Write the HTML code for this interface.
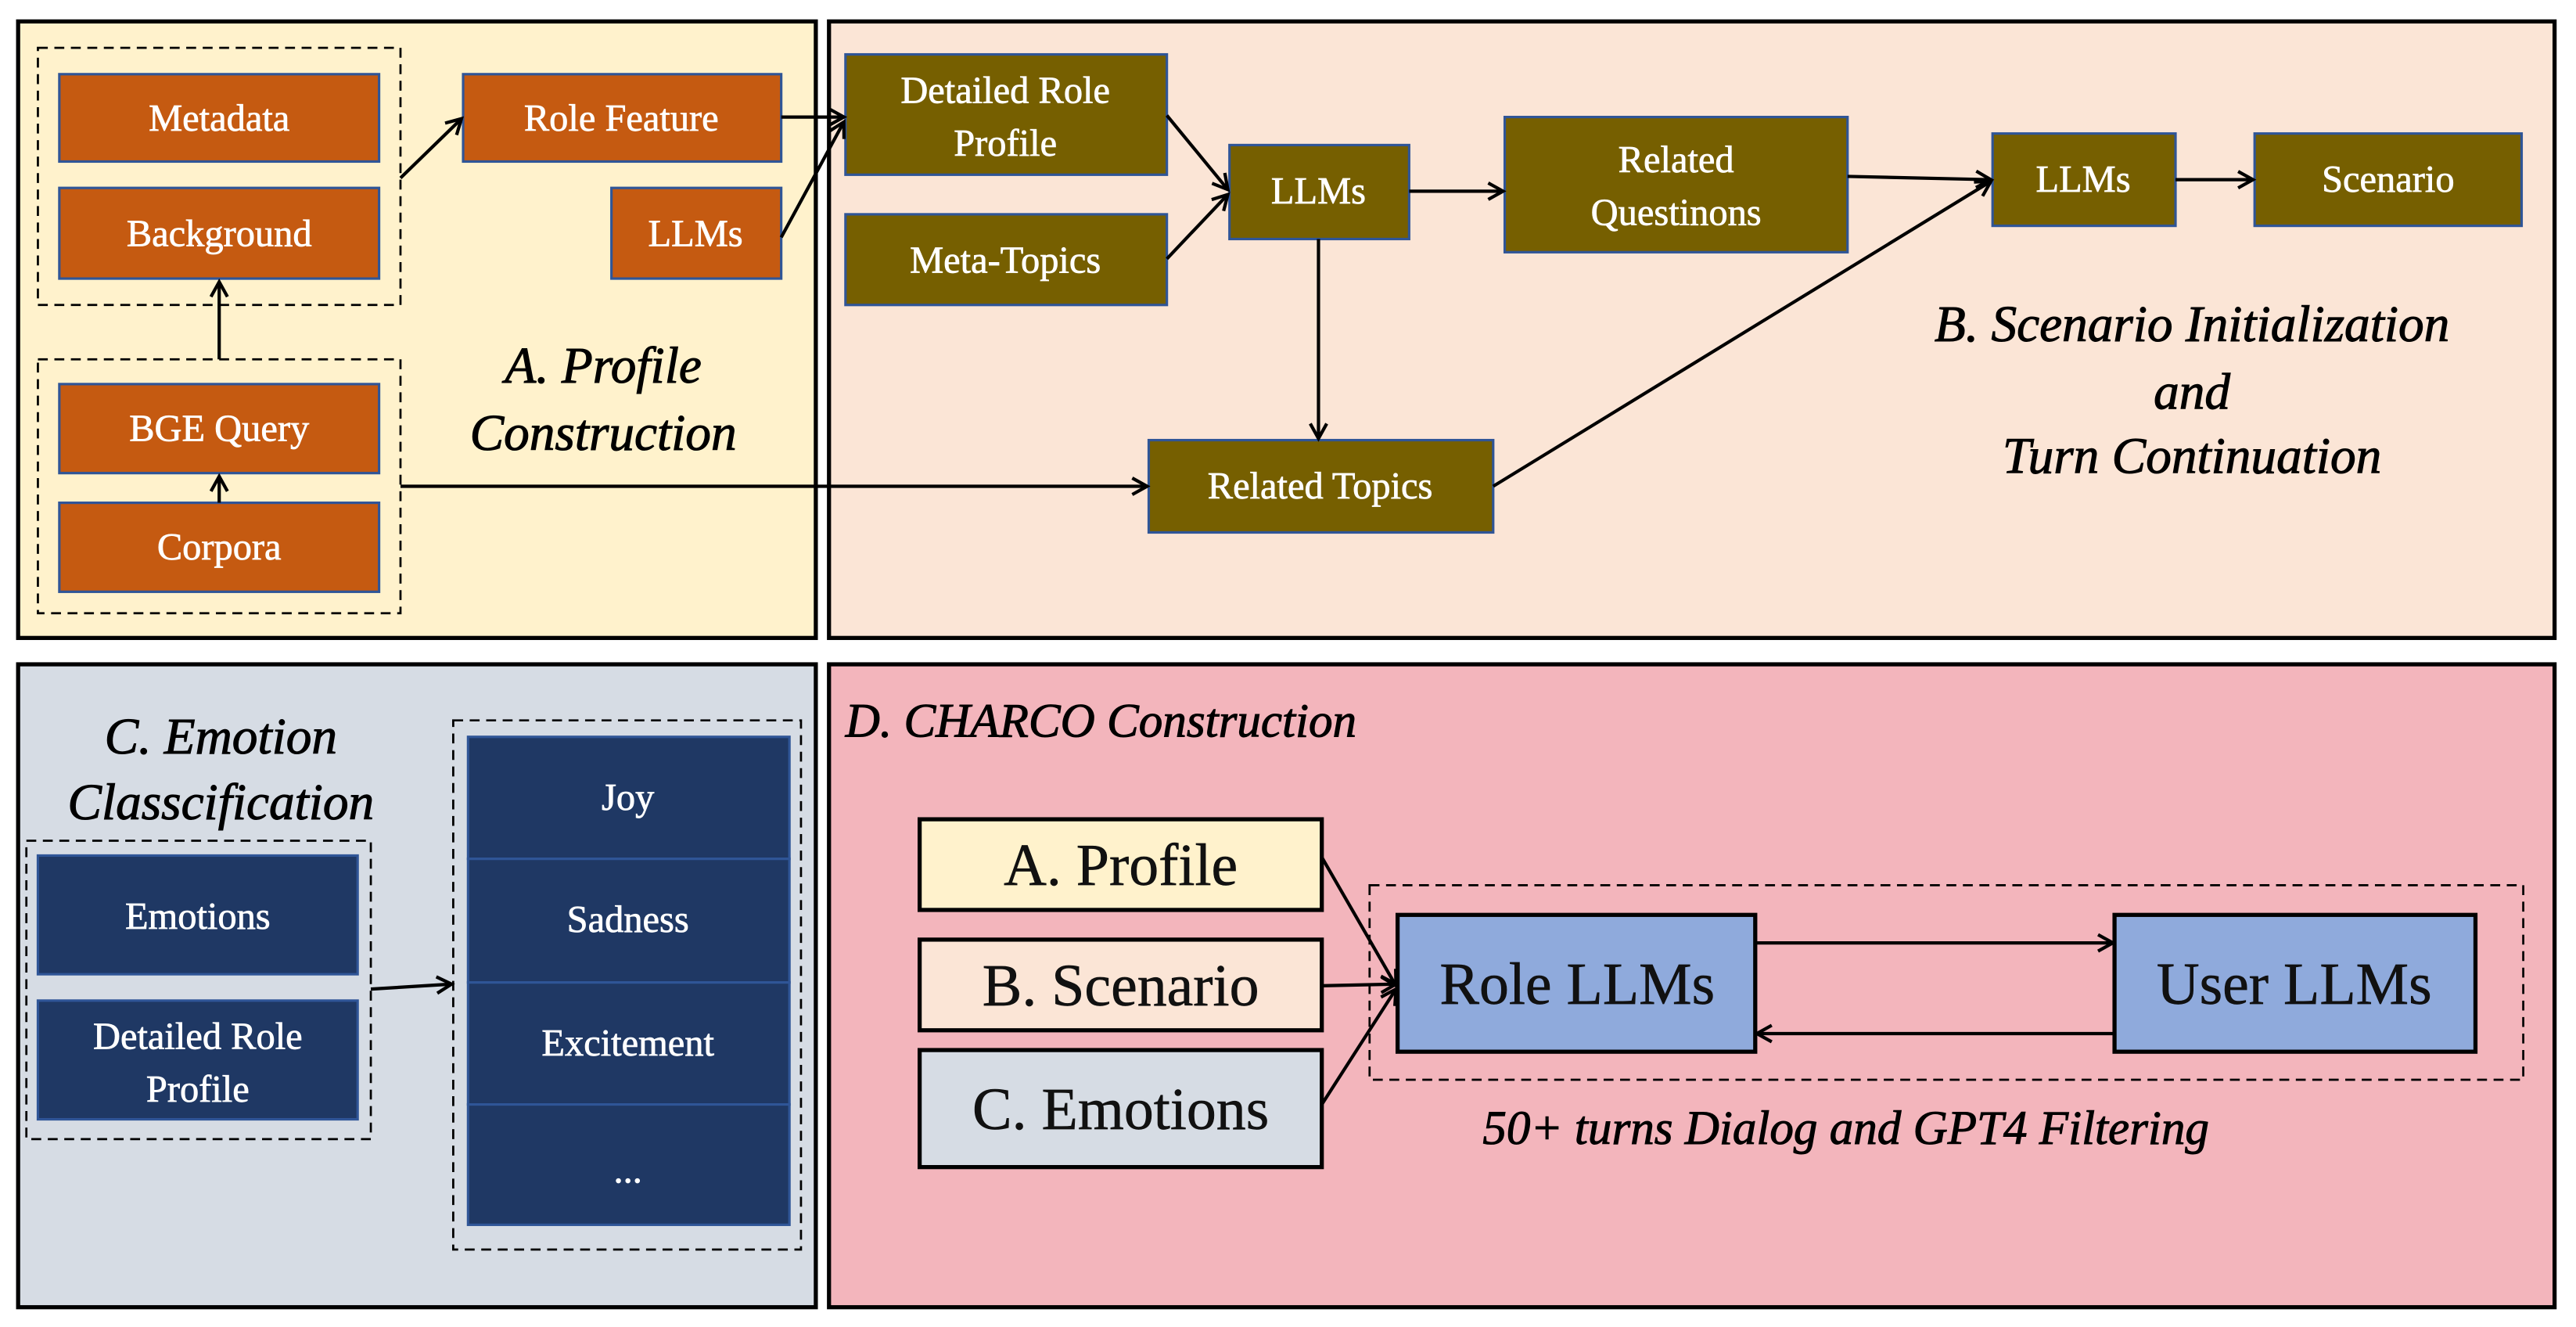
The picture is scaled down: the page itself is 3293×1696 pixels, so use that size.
<!DOCTYPE html>
<html><head><meta charset="utf-8"><style>
html,body{margin:0;padding:0;background:#fff;}
svg{display:block;}
text{font-family:"Liberation Serif","DejaVu Serif",serif;}
.w{fill:#fff;stroke:#fff;stroke-width:0.35;font-size:23px;text-anchor:middle;dominant-baseline:central;}
.it{font-style:italic;font-size:31px;fill:#000;stroke:#000;stroke-width:0.5;text-anchor:middle;}
.ln{stroke:#000;stroke-width:2;fill:none;}
.ds{stroke:#000;stroke-width:1.3;fill:none;stroke-dasharray:6 4;}
.or{fill:#C55A11;stroke:#2F5597;stroke-width:1.5;}
.ol{fill:#765F00;stroke:#2F5597;stroke-width:1.5;}
.nv{fill:#1F3864;stroke:#2F5597;stroke-width:1.5;}
.bk{font-size:36px;fill:#111;stroke:#111;stroke-width:0.3;text-anchor:middle;dominant-baseline:central;}
</style></head><body>
<svg width="3293" height="1696" viewBox="0 0 1563 805" preserveAspectRatio="none" xmlns="http://www.w3.org/2000/svg">
<defs><marker id="a" markerWidth="12" markerHeight="12" refX="10" refY="6" orient="auto" markerUnits="userSpaceOnUse"><path d="M1,1 L10,6 L1,11" fill="none" stroke="#000" stroke-width="2"/></marker></defs>
<rect x="11" y="13" width="484" height="374" fill="#FFF2CC" stroke="#000" stroke-width="2.5"/>
<rect x="503" y="13" width="1047" height="374" fill="#FBE5D6" stroke="#000" stroke-width="2.5"/>
<rect x="11" y="403" width="484" height="390" fill="#D6DCE4" stroke="#000" stroke-width="2.5"/>
<rect x="503" y="403" width="1047" height="390" fill="#F3B5BC" stroke="#000" stroke-width="2.5"/>
<rect class="ds" x="23" y="29" width="220" height="156"/>
<rect class="ds" x="23" y="218" width="220" height="154"/>
<rect class="or" x="36" y="45" width="194" height="53"/><text class="w" x="133" y="72">Metadata</text>
<rect class="or" x="36" y="114" width="194" height="55"/><text class="w" x="133" y="142">Background</text>
<rect class="or" x="36" y="233" width="194" height="54"/><text class="w" x="133" y="260">BGE Query</text>
<rect class="or" x="36" y="305" width="194" height="54"/><text class="w" x="133" y="332">Corpora</text>
<rect class="or" x="281" y="45" width="193" height="53"/><text class="w" x="377" y="72">Role Feature</text>
<rect class="or" x="371" y="114" width="103" height="55"/><text class="w" x="422" y="142">LLMs</text>
<line class="ln" x1="133" y1="218" x2="133" y2="171" marker-end="url(#a)"/>
<line class="ln" x1="133" y1="305" x2="133" y2="289" marker-end="url(#a)"/>
<line class="ln" x1="243" y1="108" x2="280" y2="72" marker-end="url(#a)"/>
<text class="it" x="366" y="232">A. Profile</text>
<text class="it" x="366" y="273">Construction</text>
<rect class="ol" x="513" y="33" width="195" height="73"/><text class="w" x="610" y="55">Detailed Role</text><text class="w" x="610" y="87">Profile</text>
<rect class="ol" x="513" y="130" width="195" height="55"/><text class="w" x="610" y="158">Meta-Topics</text>
<rect class="ol" x="746" y="88" width="109" height="57"/><text class="w" x="800" y="116">LLMs</text>
<rect class="ol" x="913" y="71" width="208" height="82"/><text class="w" x="1017" y="97">Related</text><text class="w" x="1017" y="129">Questinons</text>
<rect class="ol" x="1209" y="81" width="111" height="56"/><text class="w" x="1264" y="109">LLMs</text>
<rect class="ol" x="1368" y="81" width="162" height="56"/><text class="w" x="1449" y="109">Scenario</text>
<rect class="ol" x="697" y="267" width="209" height="56"/><text class="w" x="801" y="295">Related Topics</text>
<line class="ln" x1="474" y1="71" x2="512" y2="71" marker-end="url(#a)"/>
<line class="ln" x1="474" y1="144" x2="512" y2="74" marker-end="url(#a)"/>
<line class="ln" x1="708" y1="70" x2="745" y2="115" marker-end="url(#a)"/>
<line class="ln" x1="708" y1="157" x2="745" y2="118" marker-end="url(#a)"/>
<line class="ln" x1="855" y1="116" x2="912" y2="116" marker-end="url(#a)"/>
<line class="ln" x1="800" y1="145" x2="800" y2="266" marker-end="url(#a)"/>
<line class="ln" x1="243" y1="295" x2="696" y2="295" marker-end="url(#a)"/>
<line class="ln" x1="1121" y1="107" x2="1208" y2="109" marker-end="url(#a)"/>
<line class="ln" x1="906" y1="295" x2="1208" y2="110" marker-end="url(#a)"/>
<line class="ln" x1="1320" y1="109" x2="1367" y2="109" marker-end="url(#a)"/>
<text class="it" x="1330" y="207">B. Scenario Initialization</text>
<text class="it" x="1330" y="248">and</text>
<text class="it" x="1330" y="287">Turn Continuation</text>
<text class="it" x="134" y="457">C. Emotion</text>
<text class="it" x="134" y="497">Classcification</text>
<rect class="ds" x="16" y="510" width="209" height="181"/>
<rect class="nv" x="23" y="519" width="194" height="72"/><text class="w" x="120" y="556">Emotions</text>
<rect class="nv" x="23" y="607" width="194" height="72"/><text class="w" x="120" y="629">Detailed Role</text><text class="w" x="120" y="661">Profile</text>
<rect class="ds" x="275" y="437" width="211" height="321"/>
<rect class="nv" x="284" y="447" width="195" height="74"/><text class="w" x="381" y="484">Joy</text>
<rect class="nv" x="284" y="521" width="195" height="75"/><text class="w" x="381" y="558">Sadness</text>
<rect class="nv" x="284" y="596" width="195" height="74"/><text class="w" x="381" y="633">Excitement</text>
<rect class="nv" x="284" y="670" width="195" height="73"/><text class="w" x="381" y="710">...</text>
<line class="ln" x1="225" y1="600" x2="274" y2="597" marker-end="url(#a)"/>
<text class="it" x="513" y="447" style="text-anchor:start;font-size:29px">D. CHARCO Construction</text>
<rect x="558" y="497" width="244" height="55" fill="#FFF2CC" stroke="#000" stroke-width="2.5"/><text class="bk" x="680" y="525">A. Profile</text>
<rect x="558" y="570" width="244" height="55" fill="#FBE5D6" stroke="#000" stroke-width="2.5"/><text class="bk" x="680" y="598">B. Scenario</text>
<rect x="558" y="637" width="244" height="71" fill="#D6DCE4" stroke="#000" stroke-width="2.5"/><text class="bk" x="680" y="673">C. Emotions</text>
<rect class="ds" x="831" y="537" width="700" height="118"/>
<rect x="848" y="555" width="217" height="83" fill="#8FAADC" stroke="#000" stroke-width="2.5"/><text class="bk" x="957" y="597">Role LLMs</text>
<rect x="1283" y="555" width="219" height="83" fill="#8FAADC" stroke="#000" stroke-width="2.5"/><text class="bk" x="1392" y="597">User LLMs</text>
<line class="ln" x1="802" y1="520" x2="847" y2="598" marker-end="url(#a)"/>
<line class="ln" x1="802" y1="598" x2="847" y2="597" marker-end="url(#a)"/>
<line class="ln" x1="802" y1="670" x2="847" y2="600" marker-end="url(#a)"/>
<line class="ln" x1="1065" y1="572" x2="1282" y2="572" marker-end="url(#a)"/>
<line class="ln" x1="1283" y1="627" x2="1066" y2="627" marker-end="url(#a)"/>
<text class="it" x="1120" y="694" style="font-size:29px">50+ turns Dialog and GPT4 Filtering</text>
</svg>
</body></html>
